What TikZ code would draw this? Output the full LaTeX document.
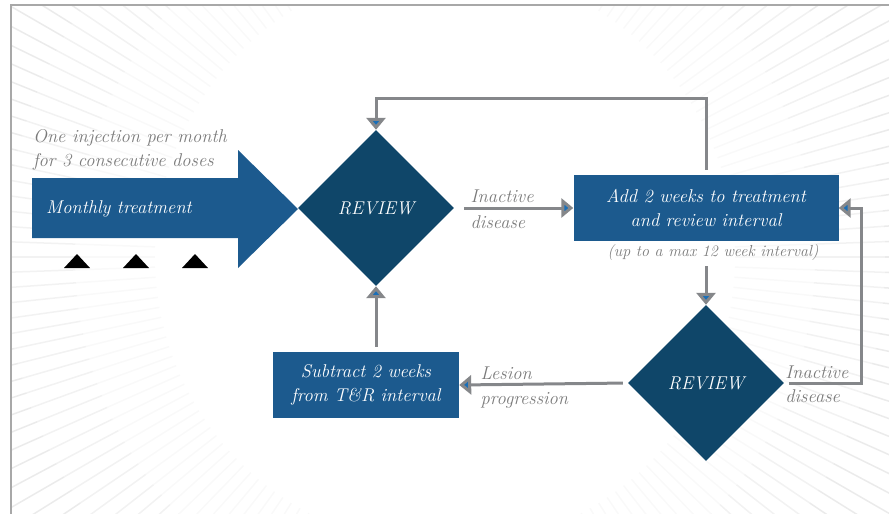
\documentclass[tikz,border=0pt]{standalone}
\usepackage{tikz}
\usetikzlibrary{positioning,arrows.meta,shapes.geometric,calc}
\usepackage{xcolor}

\definecolor{boxblue}{HTML}{1C5A8E}
\definecolor{darkblue}{HTML}{0F4669}
\definecolor{linegray}{HTML}{85878A}
\definecolor{textgray}{HTML}{7A7A7A}
\definecolor{tipblue}{HTML}{1A6FB8}
\definecolor{raygray}{HTML}{EBEBEB}
\definecolor{framegray}{HTML}{A8A8A8}
\newcommand{\flowfont}{\fontsize{18.5}{24.5}\selectfont\itshape}
\newcommand{\smallflowfont}{\fontsize{16}{20}\selectfont\itshape}

\begin{document}
\begin{tikzpicture}[x=1pt, y=-1pt, node distance=177pt and 330pt, on grid,
    >={Triangle[length=12pt, width=19pt, fill=tipblue, line width=5pt]},
    review/.style={diamond, aspect=1, fill=darkblue, text=white,
      minimum size=156pt, inner sep=0pt, font=\flowfont},
    stepbox/.style={rectangle, fill=boxblue, text=white, align=center,
      font=\flowfont, minimum height=66pt},
    note/.style={text=textgray, font=\flowfont, align=left, inner sep=1pt},
    upper/.style={note, anchor=south west, yshift=3pt},
    lower/.style={note, anchor=north west, yshift=-5pt},
    flow/.style={draw=linegray, line width=3pt, ->}]
  \useasboundingbox (0,0) rectangle (889,514);
  % faint rays in the background
  \begin{scope}
    \clip (11,5) rectangle (889,514);
    \foreach \a in {0,2,...,358} {
      \draw[raygray!30, line width=1.5pt] ($(445,257)+(\a:290)$) -- ($(445,257)+(\a:370)$);
      \draw[raygray!65, line width=1.5pt] ($(445,257)+(\a:370)$) -- ($(445,257)+(\a:440)$);
      \draw[raygray, line width=1.5pt] ($(445,257)+(\a:440)$) -- ($(445,257)+(\a:720)$);
    }
  \end{scope}
  \draw[framegray, line width=2pt] (889,5) -- (11,5) -- (11,514);

  % loading phase
  \fill[boxblue] (32,178) -- (238,178) -- (238,150) -- (298,209) -- (238,268)
    -- (238,238) -- (32,238) -- cycle;
  \node[text=white, font=\flowfont, anchor=west, inner sep=1pt] (monthly) at (45,209) {Monthly treatment};
  \node[note, anchor=north west] (dosing) at (32,128) {One injection per month\\for 3 consecutive doses};
  \foreach \x in {77,136,195}
    \fill (\x-13,268) -- (\x,254) -- (\x+13,268) -- cycle;

  % treat and extend loop
  \node[review] (rev1) at (376,208) {REVIEW};
  \node[stepbox, minimum width=265pt, right=of rev1] (add) {Add 2 weeks to treatment\\and review interval};
  \node[note, font=\smallflowfont] (maxnote) at (713,253) {(up to a max 12 week interval)};
  \node[review, below=175pt of add] (rev2) {REVIEW};
  \node[stepbox, minimum width=186pt, below left=177pt and 10pt of rev1] (sub) {Subtract 2 weeks\\from T\&R interval};

  \draw[flow, shorten <=10pt] (rev1.east) -- (add.west)
    node[upper, pos=0, xshift=14pt] (inact1) {Inactive}
    node[lower, pos=0, xshift=14pt] (dis1) {disease};
  \draw[flow, shorten <=5pt] (add.north) -- ++(0,-76) -| (rev1.north);
  \draw[flow, shorten <=4pt] (maxnote.south -| rev2.north) -- (rev2.north);
  \draw[flow, shorten <=5pt] (rev2.east) -- ++(77,0) |- (add.east);
  \node[upper] (inact2) at (rev2.east) {Inactive};
  \node[lower] (dis2) at (rev2.east) {disease};
  \draw[flow, shorten <=5pt] (rev2.west) -- (sub.east)
    node[upper, pos=1, xshift=19pt] (lesion) {Lesion}
    node[lower, pos=1, xshift=19pt] (prog) {progression};
  \draw[flow, shorten <=5pt] (sub.north -| rev1.south) -- (rev1.south);
\end{tikzpicture}
\end{document}
